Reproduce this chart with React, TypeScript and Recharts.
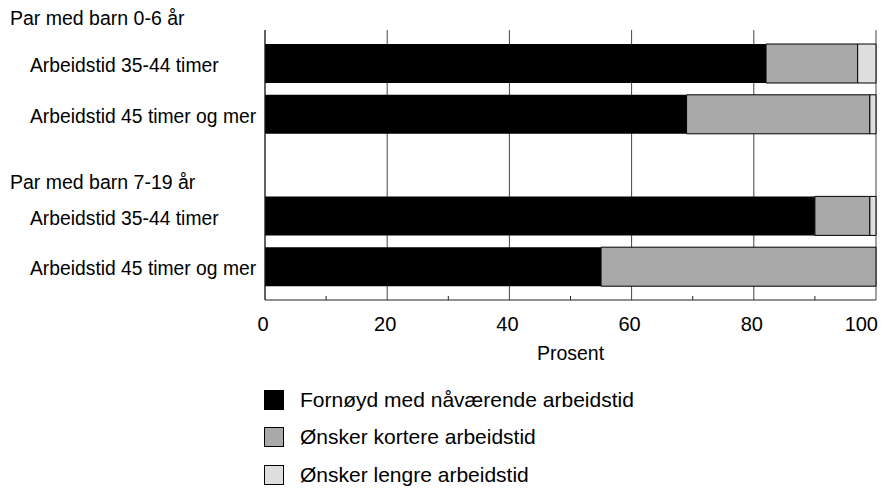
import { Bar, BarChart, CartesianGrid, Label, Legend, XAxis, YAxis } from 'recharts';

const groupLabels = ['Par med barn 0-6 år', 'Par med barn 7-19 år'];
const hourLabels = ['Arbeidstid 35-44 timer', 'Arbeidstid 45 timer og mer'];
const seriesNames = [
  'Fornøyd med nåværende arbeidstid',
  'Ønsker kortere arbeidstid',
  'Ønsker lengre arbeidstid',
];
const fornoyd = [82, 69, 90, 55];
const kortere = [15, 30, 9, 45];
const lengre = [3, 1, 1, 0];
const xTicks = [0, 10, 20, 30, 40, 50, 60, 70, 80, 90, 100];
const majorTicks = [0, 20, 40, 60, 80, 100];

const FONT = '"Liberation Sans", Arial, Helvetica, sans-serif';
const FILLS = ['#000000', '#a9a9a9', '#dedede'];

type Row = {
  id: string;
  label: string;
  header?: string;
  fornoyd?: number;
  kortere?: number;
  lengre?: number;
};

// one spacer row between the groups, its tick carries the group heading
const rows: Row[] = [];
groupLabels.forEach((group, g) => {
  if (g > 0) rows.push({ id: `gap${g}`, label: '', header: group });
  hourLabels.forEach((hours, h) => {
    const i = g * hourLabels.length + h;
    rows.push({
      id: `r${i}`,
      label: hours,
      header: g === 0 && h === 0 ? group : undefined,
      fornoyd: fornoyd[i],
      kortere: kortere[i],
      lengre: lengre[i],
    });
  });
});

function YTick(props: any) {
  const { y, payload } = props;
  const row = rows.find((r) => r.id === payload.value);
  if (!row) return null;
  if (!row.label) {
    return (
      <text x={10} y={y + 17} dy='0.35em' fontSize={19.5} fontFamily={FONT} fill='#000'>
        {row.header}
      </text>
    );
  }
  return (
    <g>
      {row.header && (
        <text x={10} y={y - 45} dy='0.35em' fontSize={19.5} fontFamily={FONT} fill='#000'>
          {row.header}
        </text>
      )}
      <text x={30} y={y + 2} dy='0.35em' fontSize={19.3} fontFamily={FONT} fill='#000'>
        {row.label}
      </text>
    </g>
  );
}

function XTick(props: any) {
  const { x, y, payload } = props;
  const major = majorTicks.includes(payload.value);
  const last = payload.value === xTicks[xTicks.length - 1];
  return (
    <g>
      {!major && <line x1={x} x2={x} y1={y} y2={y - 4} stroke='#222' />}
      {major && (
        <text
          x={last ? x + 2 : x - 2}
          y={y + 24}
          dy='0.35em'
          textAnchor={last ? 'end' : 'middle'}
          fontSize={20}
          fontFamily={FONT}
          fill='#000'
        >
          {payload.value}
        </text>
      )}
    </g>
  );
}

function LegendBox() {
  return (
    <div style={{ fontFamily: FONT, fontSize: 21, color: '#000' }}>
      {seriesNames.map((name, i) => (
        <div key={name} style={{ display: 'flex', alignItems: 'center', height: 37.5 }}>
          <span
            style={{
              width: 20,
              height: 20,
              boxSizing: 'border-box',
              background: FILLS[i],
              border: '1px solid #000',
              marginRight: 16,
              display: 'inline-block',
            }}
          />
          <span>{name}</span>
        </div>
      ))}
    </div>
  );
}

export default function App() {
  return (
    <div style={{ position: 'absolute', left: 0, top: 0, background: '#fff' }}>
      <BarChart
        width={893}
        height={490}
        data={rows}
        layout='vertical'
        margin={{ top: 30, right: 17, bottom: 125, left: 0 }}
      >
        <CartesianGrid
          horizontal={false}
          verticalValues={majorTicks}
          stroke='#444'
          strokeDasharray=''
        />
        <XAxis
          type='number'
          domain={[0, 100]}
          ticks={xTicks}
          interval={0}
          tick={<XTick />}
          tickLine={false}
          tickSize={0}
          tickMargin={0}
          axisLine={{ stroke: '#222' }}
          height={65}
        >
          <Label
            value='Prosent'
            position='insideBottom'
            offset={5}
            fontSize={19.5}
            fontFamily={FONT}
            fill='#000'
          />
        </XAxis>
        <XAxis
          xAxisId='top'
          orientation='top'
          type='number'
          domain={[0, 100]}
          tick={false}
          tickLine={false}
          axisLine={{ stroke: '#666' }}
          height={0}
        />
        <YAxis
          type='category'
          dataKey='id'
          width={265}
          tick={<YTick />}
          tickLine={false}
          axisLine={{ stroke: '#222' }}
          padding={{ top: 8, bottom: 8 }}
          interval={0}
        />
        <Legend
          layout='vertical'
          align='center'
          verticalAlign='middle'
          wrapperStyle={{ left: 264, top: 381, width: 440, height: 115 }}
          content={() => <LegendBox />}
        />
        <Bar dataKey='fornoyd' stackId='s' fill={FILLS[0]} barSize={39} isAnimationActive={false} />
        <Bar
          dataKey='kortere'
          stackId='s'
          fill={FILLS[1]}
          stroke='#000'
          strokeWidth={1}
          barSize={39}
          isAnimationActive={false}
        />
        <Bar
          dataKey='lengre'
          stackId='s'
          fill={FILLS[2]}
          stroke='#000'
          strokeWidth={1}
          barSize={39}
          isAnimationActive={false}
        />
      </BarChart>
    </div>
  );
}
